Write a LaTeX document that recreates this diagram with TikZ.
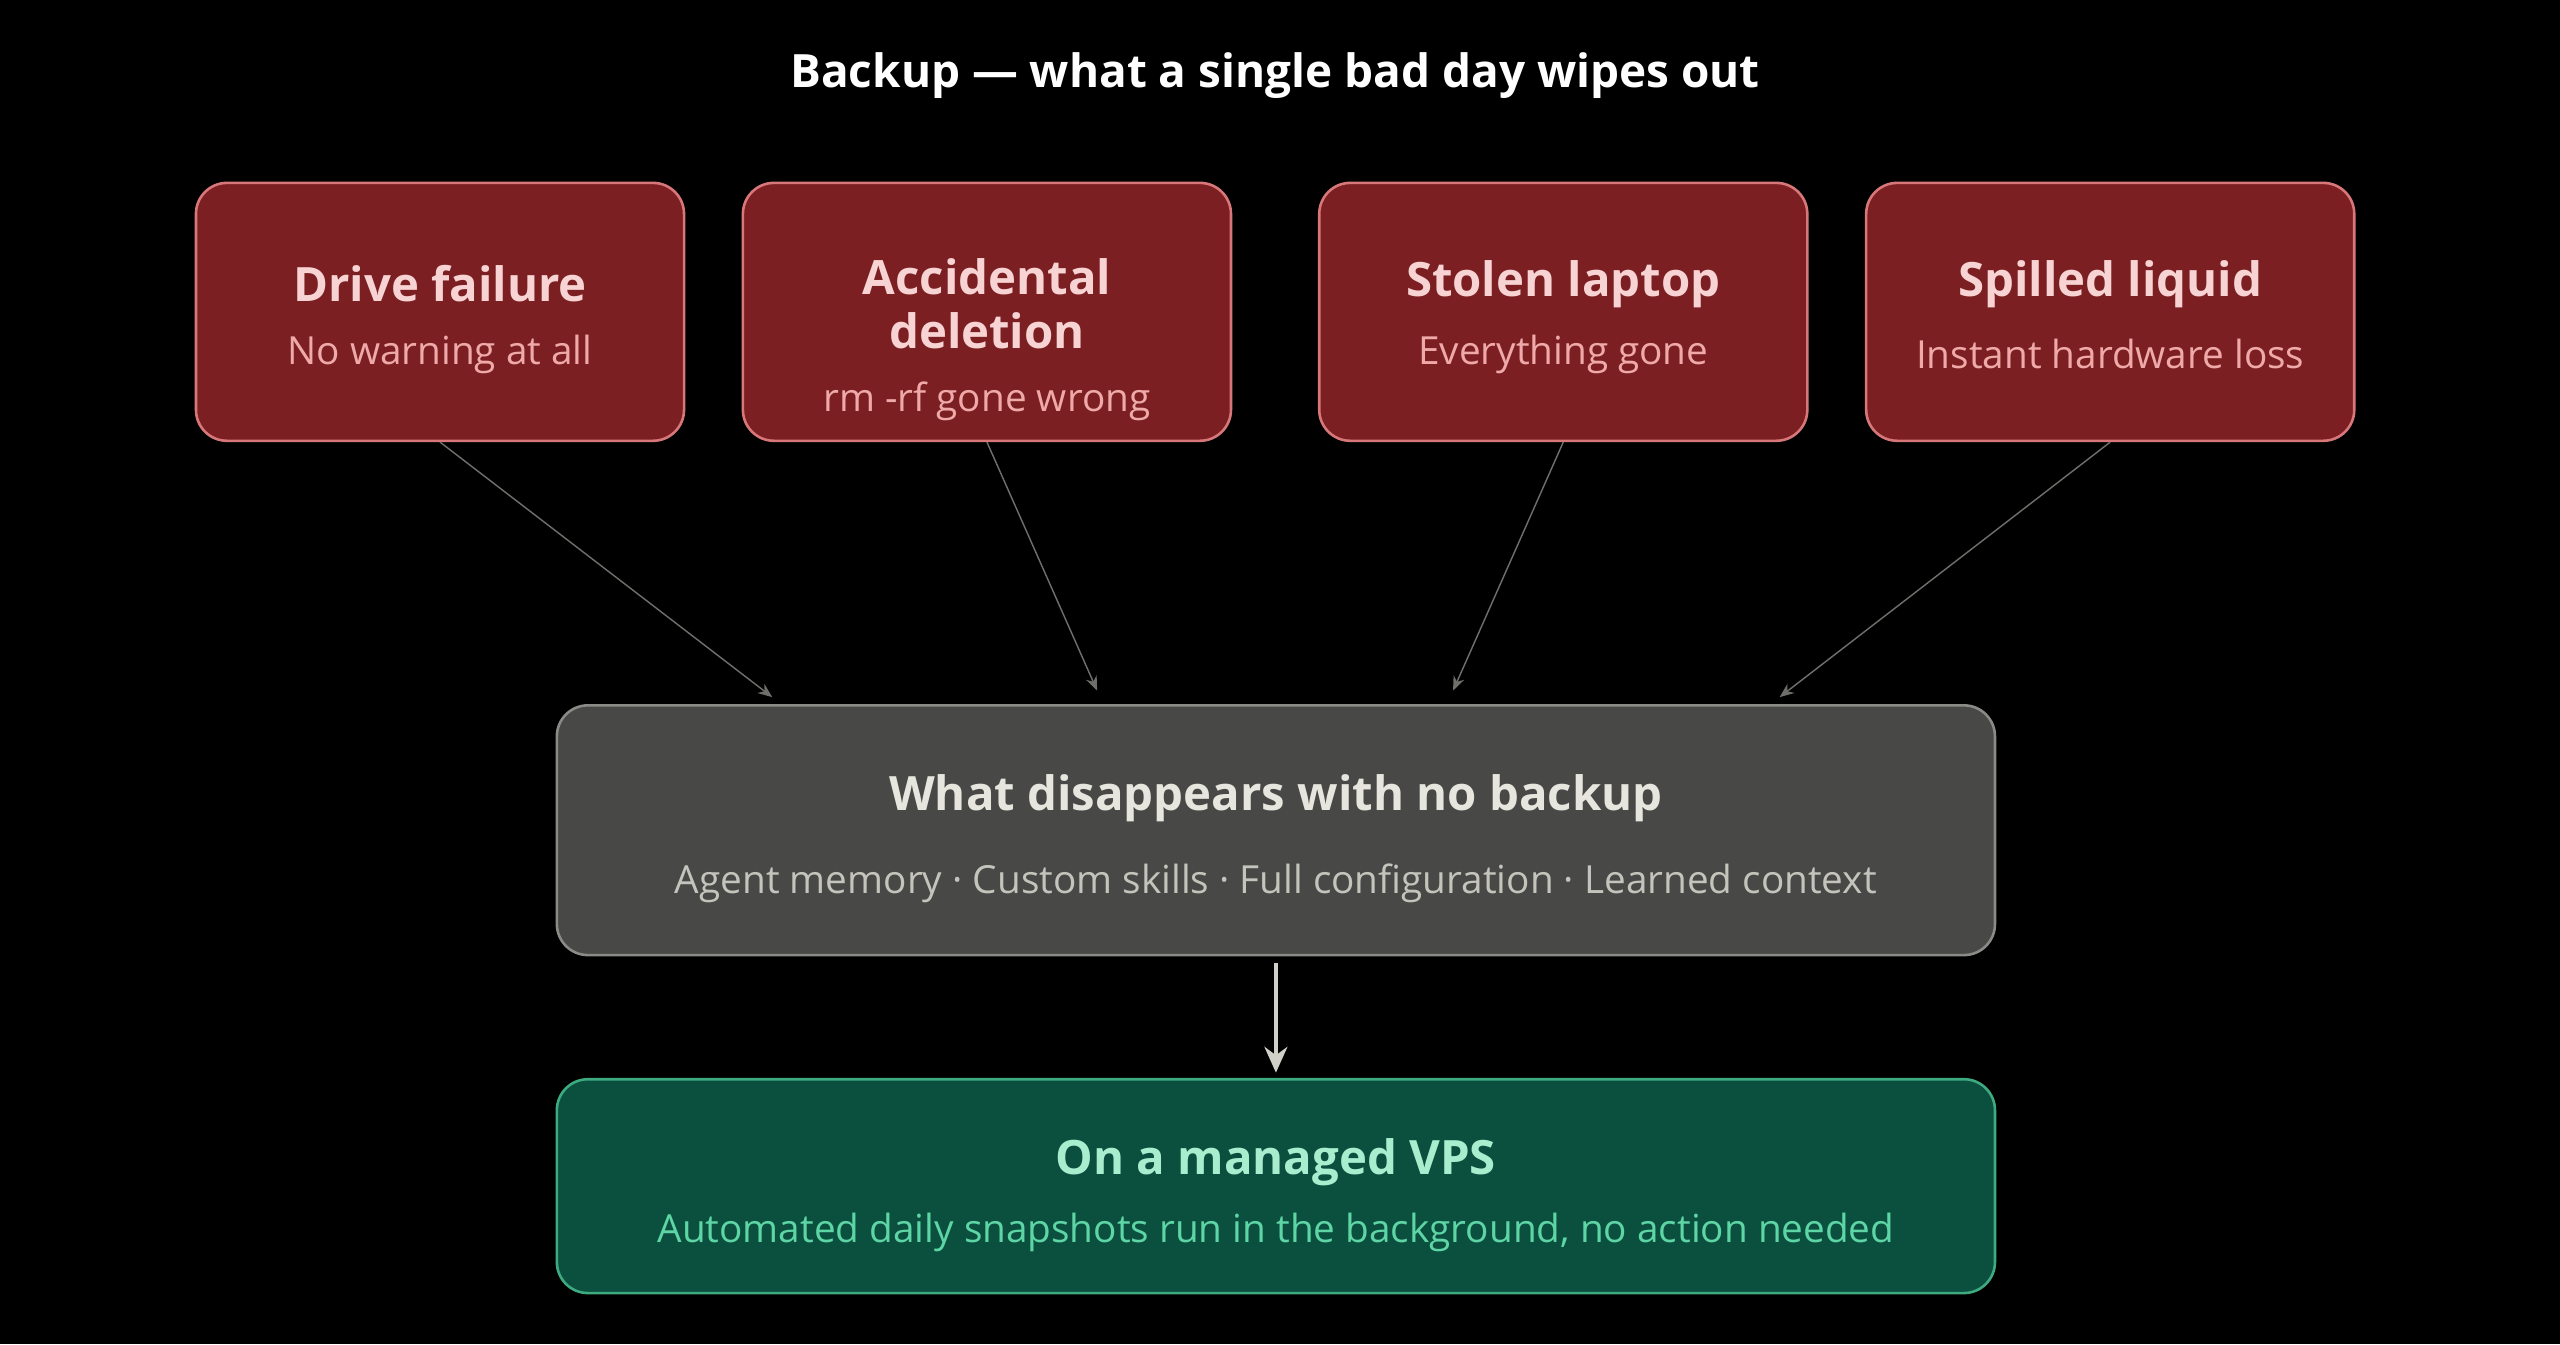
\documentclass[tikz,border=0pt]{standalone}
\usepackage{fontspec}
\setmainfont{Open Sans}
\usetikzlibrary{arrows.meta}
\definecolor{redfill}{HTML}{7B1F22}
\definecolor{redline}{HTML}{D8777A}
\definecolor{redtitle}{HTML}{F7D3D3}
\definecolor{redsub}{HTML}{EFA9A9}
\definecolor{grayfill}{HTML}{484846}
\definecolor{grayline}{HTML}{8A8A86}
\definecolor{graytitle}{HTML}{E6E6DE}
\definecolor{graysub}{HTML}{C4C4BC}
\definecolor{greenfill}{HTML}{0B4F3F}
\definecolor{greenline}{HTML}{3DAA80}
\definecolor{greentitle}{HTML}{A9EDCF}
\definecolor{greensub}{HTML}{5ED5A5}
\definecolor{arrowc}{HTML}{6E6E6A}
\begin{document}
\begin{tikzpicture}[x=0.02cm,y=-0.02cm,
  box/.style={draw, rounded corners=0.38cm, line width=0.9pt, inner sep=0pt},
  redbox/.style={box, fill=redfill, draw=redline, minimum width=5.98cm, minimum height=3.16cm},
  ttl/.style={font=\fontsize{16.5}{20}\selectfont\bfseries},
  sub/.style={font=\fontsize{13.5}{16}\selectfont},
  thin arrow/.style={draw=arrowc, line width=0.5pt, -{Stealth[length=5pt,width=4pt]}},
  thick arrow/.style={draw=graysub!80, line width=1.3pt, -{Stealth[length=9pt,width=8pt]}}]
\fill[black] (0,0) rectangle (1568,823.2);
\useasboundingbox (0,0) rectangle (1568,823.2);
\node[font=\fontsize{16}{20}\selectfont\bfseries, text=white] (title) at (781,46) {Backup — what a single bad day wipes out};
% top boxes
\node[redbox] (b1) at (269.5,191) {};
\node[redbox] (b2) at (604.5,191) {};
\node[redbox] (b3) at (957.5,191) {};
\node[redbox] (b4) at (1292.5,191) {};
\node[ttl,text=redtitle] (t1) at (269.5,174) {Drive failure};
\node[sub,text=redsub] (s1) at (269.5,217) {No warning at all};
\node[ttl,text=redtitle,align=center] (t2) at (604.5,186) {Accidental\\[-1pt]deletion};
\node[sub,text=redsub] (s2) at (604.5,246) {rm -rf gone wrong};
\node[ttl,text=redtitle] (t3) at (957.5,174) {Stolen laptop};
\node[sub,text=redsub] (s3) at (957.5,217) {Everything gone};
\node[ttl,text=redtitle] (t4) at (1292.5,174) {Spilled liquid};
\node[sub,text=redsub] (s4) at (1292.5,217) {Instant hardware loss};
% middle box
\node[box, fill=grayfill, draw=grayline, minimum width=17.62cm, minimum height=3.06cm] (mid) at (781.5,508.5) {};
\node[ttl,text=graytitle] (mt) at (781.5,489) {What disappears with no backup};
\node[sub,text=graysub] (ms) at (781.5,541) {Agent memory · Custom skills · Full configuration · Learned context};
% bottom box
\node[box, fill=greenfill, draw=greenline, minimum width=17.62cm, minimum height=2.62cm] (bot) at (781.5,726.5) {};
\node[ttl,text=greentitle] (bt) at (781.5,712) {On a managed VPS};
\node[sub,text=greensub] (bs) at (781.5,755) {Automated daily snapshots run in the background, no action needed};
% arrows
\coordinate (e1) at (473,427);
\coordinate (e2) at (672,423);
\coordinate (e3) at (890,423);
\coordinate (e4) at (1090,427);
\coordinate (m1) at (781.5,590);
\coordinate (m2) at (781.5,657);
\draw[thin arrow] (b1.south) -- (e1);
\draw[thin arrow] (b2.south) -- (e2);
\draw[thin arrow] (b3.south) -- (e3);
\draw[thin arrow] (b4.south) -- (e4);
\draw[thick arrow] (m1) -- (m2);
\end{tikzpicture}
\end{document}
